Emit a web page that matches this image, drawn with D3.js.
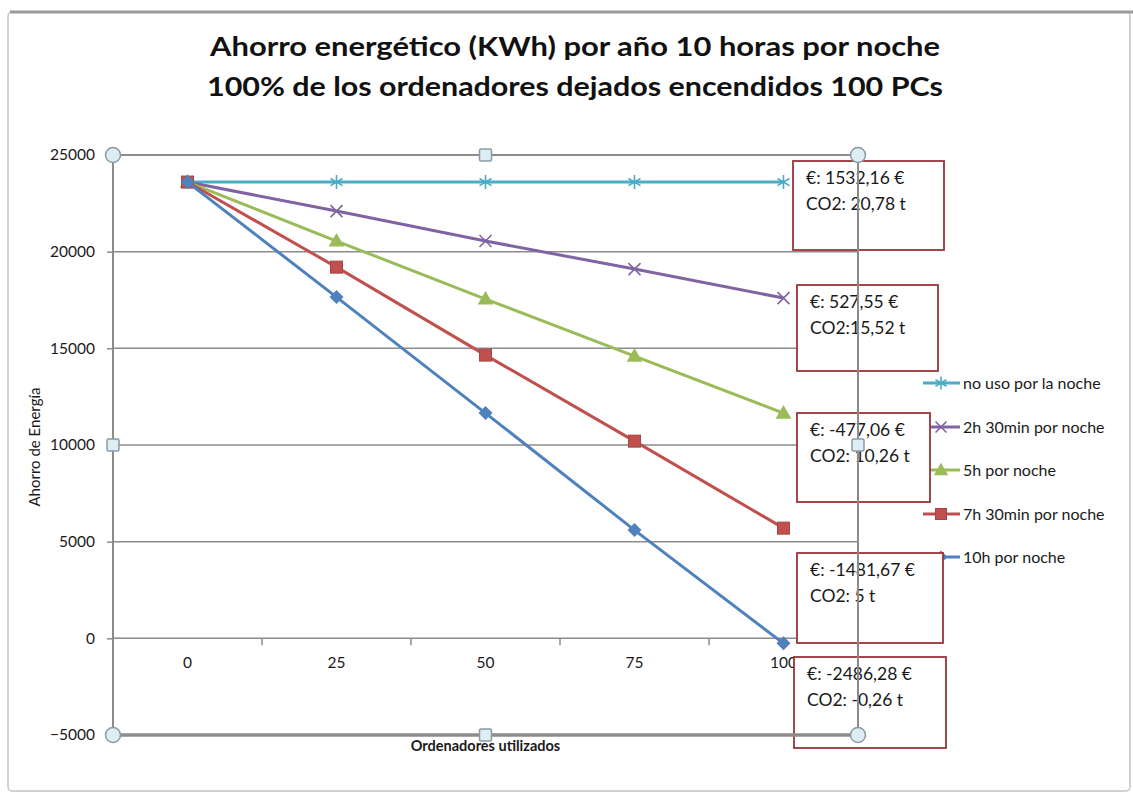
<!DOCTYPE html>
<html>
<head>
<meta charset="utf-8">
<script src="https://cdn.jsdelivr.net/npm/d3@7"></script>
<style>
  html, body { margin: 0; padding: 0; background: #fff; }
  svg { display: block; font-family: Lato, "Open Sans", "Liberation Sans", sans-serif; }
</style>
</head>
<body>
<svg id="chart" width="1133" height="799"></svg>
<script>
// ---- data ----
const titleLines = [
  "Ahorro energético (KWh) por año 10 horas por noche",
  "100% de los ordenadores dejados encendidos 100 PCs"
];
const categories = ["0", "25", "50", "75", "100"];
const seriesNames = ["no uso por la noche", "2h 30min por noche", "5h por noche", "7h 30min por noche", "10h por noche"];
const noUso      = [23600, 23600, 23600, 23600, 23600];
const dosHoras   = [23600, 22100, 20550, 19100, 17600];
const cincoHoras = [23600, 20550, 17550, 14600, 11650];
const sieteHoras = [23600, 19200, 14650, 10200, 5700];
const diezHoras  = [23600, 17650, 11650, 5600, -260];
const yTicks = [-5000, 0, 5000, 10000, 15000, 20000, 25000];
const costLabels = ["€: 1532,16 €", "€: 527,55 €", "€: -477,06 €", "€: -1481,67 €", "€: -2486,28 €"];
const co2Labels  = ["CO2: 20,78  t", "CO2:15,52 t", "CO2: 10,26 t", "CO2: 5 t", "CO2: -0,26 t"];
const yAxisTitle = "Ahorro de Energía";
const xAxisTitle = "Ordenadores utilizados";

// ---- styles ----
const colors = ["#4BACC6", "#8064A2", "#9BBB59", "#C0504D", "#4F81BD"];
const markers = ["star", "x", "triangle", "square", "diamond"];
const gridColor = "#8c8c8c";
const boxColor = "#9a3438";

const allSeries = [noUso, dosHoras, cincoHoras, sieteHoras, diezHoras].map((values, i) => ({
  name: seriesNames[i], values, color: colors[i], marker: markers[i]
}));

const svg = d3.select("#chart");
const plot = { left: 113, right: 858, top: 155, bottom: 735 };

const x = d3.scaleBand().domain(categories).range([plot.left, plot.right]).padding(0);
const xc = c => x(c) + x.bandwidth() / 2;
const y = d3.scaleLinear().domain([-5000, 25000]).range([plot.bottom, plot.top]);

// outer frame of the chart object
svg.append("rect").attr("x", 8).attr("y", 12).attr("width", 1122).attr("height", 779)
  .attr("rx", 4).attr("fill", "#fff").attr("stroke", "#c4c4c4").attr("stroke-width", 1.5);
svg.append("line").attr("x1", 10).attr("x2", 1133).attr("y1", 12).attr("y2", 12)
  .attr("stroke", "#9a9a9a").attr("stroke-width", 3);

// title
const title = svg.append("g").attr("font-weight", "bold").attr("fill", "#111").attr("text-anchor", "middle");
title.selectAll("text").data(titleLines).join("text")
  .attr("x", 575).attr("y", (d, i) => 56 + i * 40)
  .attr("font-size", 26)
  .attr("textLength", (d, i) => i === 0 ? 730 : 736)
  .attr("lengthAdjust", "spacingAndGlyphs")
  .text(d => d);

// horizontal gridlines
svg.append("g").selectAll("line").data(yTicks.filter(v => v > -5000)).join("line")
  .attr("x1", plot.left).attr("x2", plot.right)
  .attr("y1", d => y(d)).attr("y2", d => y(d))
  .attr("stroke", gridColor).attr("stroke-width", 1.5);

// y axis
const yAxis = svg.append("g").attr("transform", `translate(${plot.left},0)`)
  .call(d3.axisLeft(y).tickValues(yTicks).tickSize(6).tickPadding(12).tickFormat(d3.format("d")));
yAxis.select(".domain").remove();
yAxis.selectAll(".tick line").attr("stroke", gridColor).attr("stroke-width", 1.5);
yAxis.selectAll(".tick text").attr("font-size", 15.5).attr("fill", "#1a1a1a")
  .attr("font-family", "Lato, sans-serif");

// x axis along zero
const xAxis = svg.append("g").attr("transform", `translate(0,${y(0)})`)
  .call(d3.axisBottom(x).tickSize(0).tickPadding(19));
xAxis.select(".domain").remove();
xAxis.selectAll(".tick text").attr("font-size", 15.5).attr("fill", "#1a1a1a")
  .attr("font-family", "Lato, sans-serif");
// tick marks on category boundaries
svg.append("g").selectAll("line").data(categories.slice(1)).join("line")
  .attr("x1", d => x(d)).attr("x2", d => x(d))
  .attr("y1", y(0)).attr("y2", y(0) + 7)
  .attr("stroke", gridColor).attr("stroke-width", 1.5);

// axis titles
svg.append("text").attr("transform", `translate(40,${(plot.top + plot.bottom) / 2 + 2}) rotate(-90)`)
  .attr("text-anchor", "middle").attr("font-size", 15).attr("fill", "#1a1a1a")
  .text(yAxisTitle);
svg.append("text").attr("x", xc("50")).attr("y", 751)
  .attr("text-anchor", "middle").attr("font-size", 14.5).attr("font-weight", "bold").attr("fill", "#1a1a1a")
  .text(xAxisTitle);

// marker drawing
function drawMarker(g, type, color, size) {
  const s = size / 2;
  if (type === "star") {
    g.append("path").attr("d", `M0,${-s - 1}V${s + 1}M${-s},${-s * 0.6}L${s},${s * 0.6}M${-s},${s * 0.6}L${s},${-s * 0.6}`)
      .attr("stroke", color).attr("stroke-width", 1.6).attr("fill", "none");
  } else if (type === "x") {
    g.append("path").attr("d", `M${-s},${-s}L${s},${s}M${-s},${s}L${s},${-s}`)
      .attr("stroke", color).attr("stroke-width", 1.6).attr("fill", "none");
  } else if (type === "triangle") {
    g.append("path").attr("d", d3.symbol(d3.symbolTriangle, size * size * 0.75)())
      .attr("fill", color).attr("transform", "translate(0,1)");
  } else if (type === "square") {
    g.append("rect").attr("x", -s).attr("y", -s).attr("width", size).attr("height", size)
      .attr("fill", color).attr("stroke", d3.color(color).darker(0.4)).attr("stroke-width", 1);
  } else if (type === "diamond") {
    g.append("path").attr("d", `M0,${-s - 1}L${s + 1},0L0,${s + 1}L${-s - 1},0Z`).attr("fill", color);
  }
}

// series lines and markers
const line = d3.line().x((d, i) => xc(categories[i])).y(d => y(d));
allSeries.forEach(s => {
  const g = svg.append("g");
  g.append("path").attr("d", line(s.values)).attr("fill", "none")
    .attr("stroke", s.color).attr("stroke-width", 3).attr("stroke-linejoin", "round");
  s.values.forEach((v, i) => {
    const m = g.append("g").attr("transform", `translate(${xc(categories[i])},${y(v)})`);
    drawMarker(m, s.marker, s.color, 12);
  });
});

// legend
const legend = svg.append("g");
const legendY = [383, 427, 470, 514, 557];
allSeries.forEach((s, i) => {
  const g = legend.append("g").attr("transform", `translate(923,${legendY[i]})`);
  g.append("line").attr("x1", 0).attr("x2", 37).attr("stroke", s.color).attr("stroke-width", 3);
  const m = g.append("g").attr("transform", "translate(18,0)");
  drawMarker(m, s.marker, s.color, 11);
  g.append("text").attr("x", 40).attr("dy", "0.35em").attr("font-size", 16).attr("fill", "#1a1a1a").text(s.name);
});

// annotation boxes (one per series end)
const boxes = [
  { x: 793, y: 161, w: 151, h: 89 },
  { x: 797, y: 285, w: 141, h: 86 },
  { x: 797, y: 413, w: 133, h: 89 },
  { x: 797, y: 553, w: 146, h: 90 },
  { x: 794, y: 657, w: 152, h: 91 }
];
const ann = svg.append("g");
boxes.forEach((b, i) => {
  const g = ann.append("g");
  g.append("rect").attr("x", b.x).attr("y", b.y).attr("width", b.w).attr("height", b.h)
    .attr("fill", "#fff").attr("stroke", boxColor).attr("stroke-width", 1.8);
  g.append("text").attr("x", b.x + 13).attr("y", b.y + 23).attr("font-size", 17.5).attr("fill", "#1a1a1a").text(costLabels[i]);
  g.append("text").attr("x", b.x + 13).attr("y", b.y + 49).attr("font-size", 17.5).attr("fill", "#1a1a1a").text(co2Labels[i]);
});

// plot area border drawn over the annotations
const border = svg.append("g").attr("stroke", gridColor).attr("fill", "none");
border.append("line").attr("x1", plot.left).attr("x2", plot.left).attr("y1", plot.top).attr("y2", plot.bottom).attr("stroke-width", 2);
border.append("line").attr("x1", plot.right).attr("x2", plot.right).attr("y1", plot.top).attr("y2", plot.bottom).attr("stroke-width", 2);
border.append("line").attr("x1", plot.left).attr("x2", plot.right).attr("y1", plot.top).attr("y2", plot.top).attr("stroke-width", 2);
border.append("line").attr("x1", plot.left).attr("x2", plot.right).attr("y1", plot.bottom).attr("y2", plot.bottom).attr("stroke-width", 3.5);

// selection handles of the plot area
const midX = (plot.left + plot.right) / 2, midY = (plot.top + plot.bottom) / 2;
const corners = [[plot.left, plot.top], [plot.right, plot.top], [plot.left, plot.bottom], [plot.right, plot.bottom]];
const mids = [[midX, plot.top], [plot.left, midY], [plot.right, midY], [midX, plot.bottom]];
const handles = svg.append("g");
handles.selectAll("circle").data(corners).join("circle")
  .attr("cx", d => d[0]).attr("cy", d => d[1]).attr("r", 7.5)
  .attr("fill", "#dcedf4").attr("stroke", "#8a9aa6").attr("stroke-width", 1.5);
handles.selectAll("rect").data(mids).join("rect")
  .attr("x", d => d[0] - 6).attr("y", d => d[1] - 6).attr("width", 12).attr("height", 12).attr("rx", 1.5)
  .attr("fill", "#dcedf4").attr("stroke", "#8a9aa6").attr("stroke-width", 1.5);
</script>
</body>
</html>
